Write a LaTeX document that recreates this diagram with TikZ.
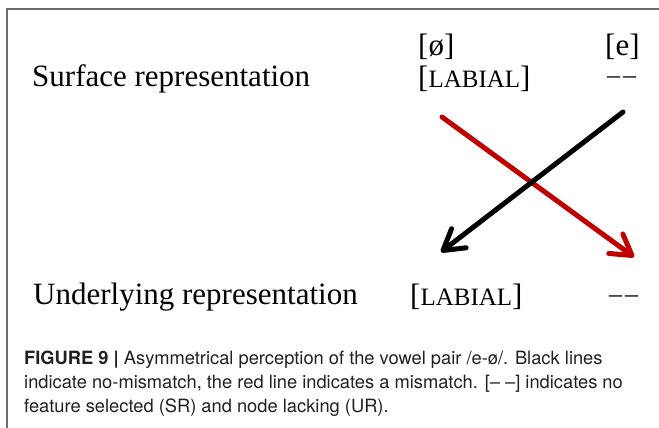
\documentclass[tikz,border=0pt]{standalone}
\usepackage{fontspec}
\setmainfont{Liberation Serif}
\newfontfamily\capfont{TeX Gyre Heros}
\usetikzlibrary{arrows.meta}
\definecolor{framegray}{RGB}{110,110,110}
\definecolor{mismatch}{RGB}{192,0,0}
\definecolor{captext}{RGB}{35,31,32}
\newcommand\bigsz{\fontsize{31}{31}\selectfont}
\newcommand\featlabial{{\bigsz[}{\fontsize{25}{25}\selectfont LABIAL}{\bigsz]}}
\newcommand\nofeat{{\fontsize{26}{26}\selectfont\symbol{"2013}\kern3pt\symbol{"2013}}}
\begin{document}
\begin{tikzpicture}[x=1pt,y=-1pt,
  rowtext/.style={anchor=base west, inner sep=0pt, font=\bigsz},
  captionline/.style={anchor=base west, inner sep=0pt, font=\capfont\fontsize{18.3}{18.3}\selectfont, text=captext},
  link/.style={line width=5pt, line cap=round, -{Straight Barb[length=20pt,width=24pt,round]}}
]
\useasboundingbox (0,0) rectangle (659,428);
\draw[framegray, line width=1.5pt] (7,428) -- (7,9) -- (659,9);

\node[rowtext] (oe) at (418,56) {[ø]};
\node[rowtext] (e) at (605,56) {[e]};
\node[rowtext] (sr) at (32,87) {Surface representation};
\node[rowtext] (srlab) at (418,88) {\featlabial};
\node[rowtext] (srnone) at (607,84) {\nofeat};

\node[rowtext] (ur) at (33,304) {Underlying representation};
\node[rowtext] (urlab) at (410,305) {\featlabial};
\node[rowtext] (urnone) at (609,302) {\nofeat};

\coordinate (rstart) at (442,117);
\coordinate (rend) at (634,257);
\coordinate (bstart) at (623,112);
\coordinate (bend) at (441,252);
\draw[link, mismatch] (rstart) -- (rend);
\draw[link, black] (bstart) -- (bend);

\node[captionline] (c1) at (24,364) {\textbf{FIGURE 9 |} Asymmetrical perception of the vowel pair /e-ø/. Black lines};
\node[captionline] (c2) at (24,388) {indicate no-mismatch, the red line indicates a mismatch. [– –] indicates no};
\node[captionline] (c3) at (24,412) {feature selected (SR) and node lacking (UR).};
\end{tikzpicture}
\end{document}
